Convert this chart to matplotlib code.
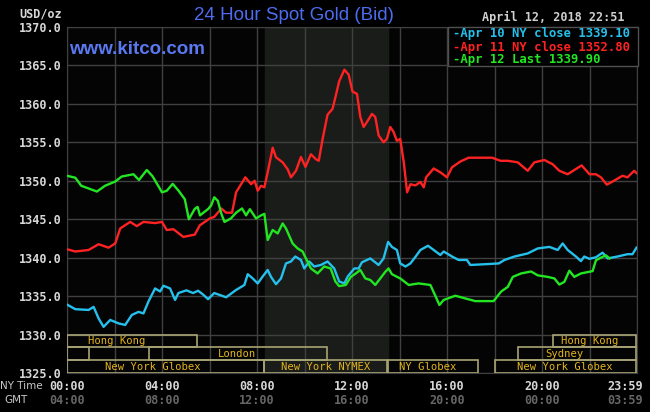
import numpy as np
import matplotlib.pyplot as plt
from matplotlib.patches import Rectangle

# hours since 00:00 NY time, price in USD/oz
apr10_h = [0, 0.35, 0.91, 1.12, 1.33, 1.54, 1.82, 2.17, 2.45, 2.73, 3.01, 3.22, 3.43, 3.71,
           3.92, 4.06, 4.34, 4.55, 4.69, 5.03, 5.31, 5.52, 5.73, 5.94, 6.2, 6.7, 7.12, 7.47,
           7.61, 7.82, 8.03, 8.24, 8.45, 8.59, 8.8, 9.01, 9.22, 9.43, 9.61, 9.85, 9.99, 10.2,
           10.41, 10.69, 10.97, 11.25, 11.46, 11.68, 11.82, 12.1, 12.28, 12.42, 12.77, 13.12,
           13.33, 13.52, 13.68, 13.89, 14.03, 14.25, 14.46, 14.67, 14.88, 15.2, 15.44, 15.72,
           15.86, 16.21, 16.49, 16.84, 16.98, 17.61, 18.18, 18.42, 18.84, 19.4, 19.82, 20.31,
           20.66, 20.87, 21.08, 21.43, 21.64, 21.78, 21.99, 22.27, 22.55, 22.76, 23.18, 23.6,
           23.81, 23.98]
apr10_v = [1333.9, 1333.3, 1333.2, 1333.6, 1332.1, 1331.0, 1331.9, 1331.45, 1331.25, 1332.55,
           1332.95, 1332.75, 1334.3, 1336.0, 1335.6, 1336.35, 1336.0, 1334.5, 1335.4, 1335.75,
           1335.4, 1335.7, 1335.2, 1334.6, 1335.4, 1334.85, 1335.8, 1336.45, 1337.85, 1337.3,
           1336.65, 1337.55, 1338.4, 1337.5, 1336.55, 1337.3, 1339.25, 1339.5, 1340.15, 1339.7,
           1338.6, 1339.5, 1338.85, 1339.05, 1339.5, 1338.6, 1336.9, 1336.65, 1337.55, 1338.6,
           1338.6, 1339.4, 1339.9, 1339.05, 1339.9, 1342.05, 1341.4, 1341.0, 1339.25, 1338.85,
           1339.25, 1340.1, 1341.0, 1341.55, 1341.0, 1340.35, 1340.8, 1340.15, 1339.7, 1339.7,
           1339.05, 1339.15, 1339.25, 1339.7, 1340.15, 1340.55, 1341.2, 1341.4, 1341.0, 1341.85,
           1341.0, 1340.15, 1339.55, 1340.15, 1339.85, 1340.05, 1340.65, 1339.9, 1340.15,
           1340.45, 1340.45, 1341.3]

apr11_h = [0, 0.35, 0.91, 1.33, 1.75, 2.03, 2.24, 2.66, 2.94, 3.22, 3.71, 4.0, 4.2, 4.48, 4.9,
           5.38, 5.59, 6.01, 6.2, 6.5, 6.7, 6.95, 7.12, 7.51, 7.75, 7.9, 8.03, 8.17, 8.31, 8.45,
           8.66, 8.8, 9.08, 9.29, 9.43, 9.64, 9.85, 10.04, 10.27, 10.48, 10.6, 10.76, 10.97,
           11.18, 11.32, 11.46, 11.68, 11.86, 12.02, 12.21, 12.35, 12.49, 12.63, 12.84, 12.98,
           13.12, 13.33, 13.47, 13.61, 13.75, 13.89, 14.03, 14.18, 14.32, 14.46, 14.67, 14.88,
           15.02, 15.12, 15.44, 15.72, 16.0, 16.21, 16.56, 16.91, 17.33, 17.9, 18.25, 18.56,
           18.98, 19.4, 19.68, 20.1, 20.45, 20.73, 21.08, 21.36, 21.67, 22.0, 22.27, 22.48,
           22.73, 22.97, 23.39, 23.6, 23.88, 23.98]
apr11_v = [1341.1, 1340.8, 1341.0, 1341.75, 1341.3, 1341.85, 1343.8, 1344.65, 1344.1, 1344.65,
           1344.5, 1344.65, 1343.6, 1343.7, 1342.7, 1343.0, 1344.2, 1345.1, 1345.3, 1346.4,
           1345.85, 1345.85, 1348.5, 1350.45, 1349.55, 1350.0, 1348.7, 1349.35, 1349.15, 1351.1,
           1354.3, 1353.05, 1352.4, 1351.5, 1350.45, 1351.3, 1353.1, 1351.8, 1353.45, 1352.8,
           1352.6, 1355.4, 1358.6, 1359.35, 1361.1, 1362.95, 1364.45, 1363.8, 1361.6, 1361.3,
           1358.3, 1357.0, 1357.65, 1358.7, 1358.3, 1355.9, 1355.0, 1355.45, 1357.0, 1356.35,
           1355.2, 1355.45, 1352.4, 1348.5, 1349.55, 1349.4, 1349.85, 1349.15, 1350.45, 1351.6,
           1351.1, 1350.45, 1351.75, 1352.5, 1353.0, 1353.0, 1353.0, 1352.6, 1352.6, 1352.4,
           1351.3, 1352.4, 1352.7, 1352.15, 1351.3, 1350.85, 1351.4, 1352.0, 1350.85, 1350.85,
           1350.45, 1349.5, 1349.9, 1350.65, 1350.45, 1351.3, 1351.0]

apr12_h = [0, 0.35, 0.6, 0.91, 1.26, 1.6, 2.03, 2.3, 2.8, 3.03, 3.36, 3.6, 4.0, 4.2, 4.45, 4.7,
           4.96, 5.13, 5.38, 5.5, 5.6, 5.95, 6.07, 6.2, 6.35, 6.5, 6.63, 6.9, 7.12, 7.37, 7.54,
           7.7, 7.96, 8.17, 8.31, 8.45, 8.66, 8.87, 9.08, 9.22, 9.5, 9.71, 9.92, 10.06, 10.27,
           10.55, 10.83, 11.1, 11.3, 11.46, 11.74, 11.95, 12.16, 12.35, 12.56, 12.77, 12.98,
           13.19, 13.4, 13.54, 13.68, 14.03, 14.39, 14.8, 15.3, 15.5, 15.68, 15.86, 16.35,
           16.77, 17.19, 17.96, 18.28, 18.56, 18.77, 19.12, 19.54, 19.82, 20.24, 20.52, 20.73,
           20.94, 21.15, 21.36, 21.64, 22.13, 22.27, 22.48, 22.69, 22.85]
apr12_v = [1350.65, 1350.4, 1349.35, 1349.0, 1348.6, 1349.35, 1349.9, 1350.55, 1350.85, 1350.1,
           1351.4, 1350.6, 1348.5, 1348.7, 1349.6, 1348.7, 1347.6, 1345.0, 1346.35, 1346.6,
           1345.5, 1346.35, 1346.8, 1347.85, 1347.4, 1345.7, 1344.65, 1345.1, 1345.85, 1346.4,
           1345.5, 1346.3, 1345.1, 1345.5, 1345.7, 1342.3, 1343.6, 1343.15, 1344.45, 1343.8,
           1341.85, 1341.2, 1340.8, 1339.9, 1338.6, 1337.95, 1338.85, 1338.6, 1336.9, 1336.3,
           1336.45, 1337.5, 1337.95, 1338.4, 1337.3, 1337.1, 1336.45, 1337.3, 1338.15, 1338.6,
           1337.85, 1337.3, 1336.45, 1336.65, 1336.45, 1335.1, 1333.85, 1334.5, 1335.05, 1334.7,
           1334.35, 1334.35, 1335.6, 1336.2, 1337.5, 1337.95, 1338.2, 1337.7, 1337.5, 1337.3,
           1336.5, 1336.85, 1338.3, 1337.5, 1337.95, 1338.25, 1339.65, 1340.0, 1340.3, 1339.9]

legend_labels = ["-Apr 10 NY close 1339.10", "-Apr 11 NY close 1352.80", "-Apr 12 Last 1339.90"]
ny_ticks = ["00:00", "04:00", "08:00", "12:00", "16:00", "20:00", "23:59"]
gmt_ticks = ["04:00", "08:00", "12:00", "16:00", "20:00", "00:00", "03:59"]
tick_hours = [0, 4, 8, 12, 16, 20, 24]

# trading sessions: (row, start, end, label, label hour)
sessions = [
    (0, 0, 5.47, "Hong Kong", 2.1),
    (0, 20.46, 23.96, "Hong Kong", 22.0),
    (1, 0, 0.93, "", 0),
    (1, 3.45, 10.95, "London", 7.15),
    (1, 18.99, 23.96, "Sydney", 20.95),
    (2, 0, 8.3, "New York Globex", 3.6),
    (2, 8.3, 13.46, "New York NYMEX", 10.9),
    (2, 13.5, 17.3, "NY Globex", 15.2),
    (2, 18.0, 23.96, "New York Globex", 20.95),
]
nymex_open, nymex_close = 8.33, 13.5

W, H = 650, 412
fig = plt.figure(figsize=(W / 100, H / 100), dpi=100, facecolor='black')
ax = fig.add_axes([67 / W, (H - 373) / H, 570 / W, 346 / H])
ax.set_facecolor('#040404')
ax.axvspan(nymex_open, nymex_close, color='#1a1c1a', zorder=0)

ax.set_xlim(0, 24)
ax.set_ylim(1325, 1370)
ax.set_xticks(np.arange(0, 25, 2))
ax.set_yticks(np.arange(1325, 1371, 5))
ax.grid(True, color='#404040', linewidth=1.0, zorder=1)
ax.tick_params(length=0, labelbottom=False, labelleft=True, pad=4)
ax.set_yticklabels([f"{v:.1f}" for v in np.arange(1325, 1371, 5)],
                   family='DejaVu Sans Mono', fontsize=8.5, fontweight='bold', color='#d8d8d8')
for s in ax.spines.values():
    s.set_color('#404040')

ax.plot(apr10_h, apr10_v, color='#25c0ec', lw=1.7, zorder=3)
ax.plot(apr11_h, apr11_v, color='#ff2222', lw=1.7, zorder=4)
ax.plot(apr12_h, apr12_v, color='#22e622', lw=1.7, zorder=5)

row_h = 5 / 3
for row, x0, x1, lab, lx in sessions:
    y0 = 1330 - (row + 1) * row_h
    ax.add_patch(Rectangle((x0, y0), x1 - x0, row_h, fill=False,
                           edgecolor='#a8a474', linewidth=1.2, zorder=6))
    if lab:
        ax.text(lx, y0 + row_h / 2, lab, ha='center', va='center', fontsize=7.6,
                family='DejaVu Sans Mono', color='#e4b41c', zorder=7)

# legend box
leg = Rectangle((448 / W, 1 - 66 / H), 190 / W, 39 / H, transform=fig.transFigure,
                facecolor='black', edgecolor='#505050', linewidth=1, zorder=10)
fig.patches.append(leg)
for lab, col, yp in zip(legend_labels, ['#25c0ec', '#ff2222', '#22e622'], [34, 47, 60]):
    fig.text(453 / W, 1 - yp / H, lab, ha='left', va='center', color=col,
             family='DejaVu Sans Mono', fontsize=8.8, fontweight='bold', zorder=11)

fig.text(294 / W, 1 - 15 / H, "24 Hour Spot Gold (Bid)", ha='center', va='center',
         color='#4d6cf0', family='Liberation Sans', fontsize=13.5)
fig.text(69 / W, 1 - 49 / H, "www.kitco.com", ha='left', va='center',
         color='#5a78f0', family='Liberation Sans', fontsize=13.5, fontweight='bold')
fig.text(625 / W, 1 - 17 / H, "April 12, 2018 22:51", ha='right', va='center',
         color='#d0d0d0', family='DejaVu Sans Mono', fontsize=8.5, fontweight='bold')
fig.text(62 / W, 1 - 14 / H, "USD/oz", ha='right', va='center',
         color='#d8d8d8', family='DejaVu Sans Mono', fontsize=8.5, fontweight='bold')

fig.text(0, 1 - 386 / H, "NY Time", ha='left', va='center', color='#c8c8c8',
         family='DejaVu Sans', fontsize=7.5)
fig.text(28 / W, 1 - 400 / H, "GMT", ha='right', va='center', color='#c8c8c8',
         family='DejaVu Sans', fontsize=7.5)
for hr, ny, gm in zip(tick_hours, ny_ticks, gmt_ticks):
    xp = 67 + hr * 23.75
    if hr == 24:
        xp = 625
    fig.text(xp / W, 1 - 386 / H, ny, ha='center', va='center', color='#d8d8d8',
             family='DejaVu Sans Mono', fontsize=8.5, fontweight='bold')
    fig.text(xp / W, 1 - 400 / H, gm, ha='center', va='center', color='#666666',
             family='DejaVu Sans Mono', fontsize=8.5, fontweight='bold')

fig.savefig("out.png", dpi=100, facecolor='black')
